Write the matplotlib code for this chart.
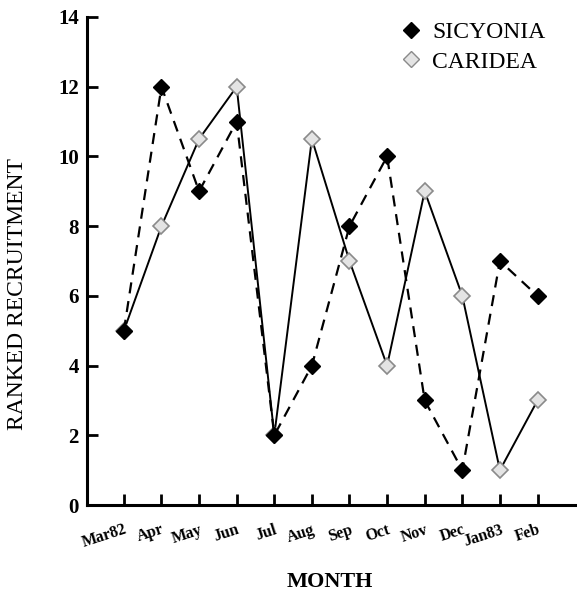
import matplotlib
matplotlib.use("Agg")
import matplotlib.pyplot as plt

months = ["Mar82", "Apr", "May", "Jun", "Jul", "Aug", "Sep", "Oct",
          "Nov", "Dec", "Jan83", "Feb"]
sicyonia = [5, 12, 9, 11, 2, 4, 8, 10, 3, 1, 7, 6]
caridea = [5, 8, 10.5, 12, 2, 10.5, 7, 4, 9, 6, 1, 3]
yticks = [0, 2, 4, 6, 8, 10, 12, 14]

plt.rcParams['font.family'] = ['Liberation Serif', 'DejaVu Serif']

fig = plt.figure(figsize=(5.77, 5.94), dpi=100)
ax = fig.add_axes([0.1508, 0.1498, 0.8492, 0.8216])

x = list(range(len(months)))

# caridea drawn first so the filled diamonds sit on top
ax.plot(x, caridea, linestyle='-', color='black', linewidth=1.4,
        marker='D', markersize=8.5, markerfacecolor='#e4e4e4',
        markeredgecolor='#8a8a8a', markeredgewidth=1.2, label='CARIDEA', zorder=3)
ax.plot(x, sicyonia, linestyle=(0, (5, 3.5)), color='black', linewidth=1.6,
        marker='D', markersize=8.5, markerfacecolor='black',
        markeredgecolor='black', label='SICYONIA', zorder=4)

ax.set_xlim(-0.98, 12.05)
ax.set_ylim(0, 14)

ax.spines['top'].set_visible(False)
ax.spines['right'].set_visible(False)
ax.spines['left'].set_linewidth(2.2)
ax.spines['bottom'].set_linewidth(2.2)

ax.set_yticks(yticks)
ax.set_yticklabels([str(v) for v in yticks], fontsize=15, fontweight='bold')
ax.set_xticks(x)
ax.set_xticklabels(months, fontsize=11.5, fontweight='bold', rotation=18,
                   ha='right', rotation_mode='anchor')
ax.tick_params(axis='both', direction='in', length=8, width=2)
ax.tick_params(axis='x', pad=12)
ax.tick_params(axis='y', pad=6)

# axis titles placed in figure coords
fig.text(18 / 577, 1 - 294 / 594, "RANKED RECRUITMENT", fontsize=17,
         rotation=90, ha='center', va='center')
fig.text(330 / 577, 1 - 582 / 594, "MONTH", fontsize=16, fontweight='bold',
         ha='center', va='center')

handles, labels = ax.get_legend_handles_labels()
leg_handles = []
for h in handles[::-1]:
    leg_handles.append(plt.Line2D([], [], linestyle='none', marker='D',
                                  markersize=8, markerfacecolor=h.get_markerfacecolor(),
                                  markeredgecolor=h.get_markeredgecolor()))
ax.legend(leg_handles, labels[::-1], loc='upper right', frameon=False,
          prop={'size': 17}, handletextpad=0.3, borderaxespad=0.2,
          bbox_to_anchor=(0.965, 1.02), labelspacing=0.35, handlelength=1.2)

fig.savefig("out.png", dpi=100)
